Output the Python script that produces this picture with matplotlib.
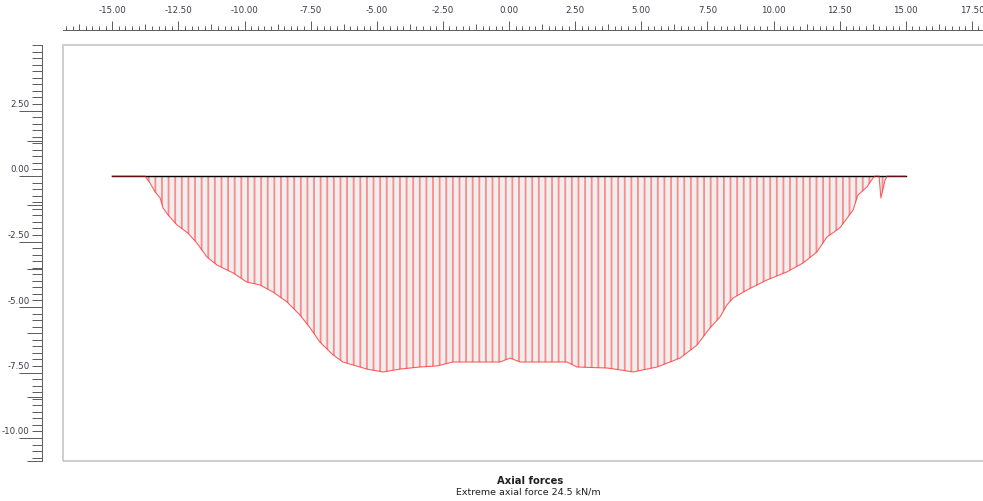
import numpy as np
import matplotlib
matplotlib.use("Agg")
import matplotlib.pyplot as plt
from matplotlib.ticker import MultipleLocator, FixedLocator, FormatStrFormatter, NullFormatter
from matplotlib.transforms import ScaledTranslation
from matplotlib.patches import Rectangle

# ---------------- data ----------------
x_pos = [-15.0, -13.76, -13.57, -13.38, -13.19, -13.08, -12.89, -12.55, -12.14, -11.80,
         -11.42, -11.04, -10.43, -9.91, -9.41, -8.92, -8.39, -7.90, -7.52, -7.15,
         -6.65, -6.28, -5.90, -5.37, -4.76, -4.12, -3.36, -2.72, -2.12, -1.21,
         -0.34, 0.04, 0.42, 1.55, 2.19, 2.57, 3.71, 4.20, 4.69, 5.60,
         6.47, 7.11, 7.60, 7.98, 8.24, 8.47, 9.00, 9.75, 10.51, 11.12,
         11.64, 12.02, 12.51, 13.01, 13.19, 13.53, 13.76, 13.84, 13.99, 14.06,
         14.22, 14.29, 15.0]
axial = [0, 0, -0.27, -0.61, -0.84, -1.22, -1.49, -1.87, -2.18, -2.56,
         -3.09, -3.40, -3.70, -4.05, -4.16, -4.43, -4.81, -5.31, -5.80, -6.34,
         -6.83, -7.10, -7.21, -7.37, -7.48, -7.37, -7.29, -7.25, -7.10, -7.10,
         -7.10, -6.95, -7.10, -7.10, -7.10, -7.29, -7.33, -7.40, -7.48, -7.29,
         -6.95, -6.45, -5.80, -5.38, -4.92, -4.66, -4.35, -3.97, -3.66, -3.32,
         -2.90, -2.33, -1.98, -1.30, -0.73, -0.42, -0.08, 0, 0, -0.84,
         -0.15, 0, 0]
x_ticks = [-15.0, -12.5, -10.0, -7.5, -5.0, -2.5, 0.0, 2.5, 5.0, 7.5, 10.0, 12.5, 15.0, 17.5]
y_ticks = [2.5, 0.0, -2.5, -5.0, -7.5, -10.0]
title = "Axial forces"
subtitle = "Extreme axial force 24.5 kN/m"

# ---------------- layout ----------------
DPI = 119
W, H = 983, 501
PX = 72.0 / DPI  # points per pixel

def rect(l, t, r, b):
    return [l / W, 1 - b / H, (r - l) / W, (b - t) / H]

# pixel calibration
X0_PX, SX = 509.0, 26.45
Y0_PX, SY = 176.0, 26.2
L, T, R, B = 63, 45, 990, 461
xlim = ((L - X0_PX) / SX, (R - X0_PX) / SX)
ylim = ((Y0_PX - B) / SY, (Y0_PX - T) / SY)

plt.rcParams["font.family"] = ["DejaVu Sans"]
plt.rcParams["hatch.linewidth"] = 1.1

fig = plt.figure(figsize=(W / DPI, H / DPI), dpi=DPI)
fig.patch.set_facecolor("white")

tick_col = "#606060"
lab_col = "#3a3a4a"
fs_tick = 8.7 * PX

ax = fig.add_axes(rect(L, T, R, B))
ax.set_xlim(*xlim)
ax.set_ylim(*ylim)
ax.patch.set_alpha(0)

# ruler axes
for s in ("right", "bottom"):
    ax.spines[s].set_visible(False)
ax.spines["top"].set_position(("outward", 9))
ax.spines["left"].set_position(("outward", 13))
for s in ("top", "left"):
    ax.spines[s].set_color(tick_col)
    ax.spines[s].set_linewidth(1.0 * PX)

ax.xaxis.tick_top()
ax.xaxis.set_major_locator(FixedLocator(x_ticks))
ax.xaxis.set_minor_locator(MultipleLocator(0.25))
ax.xaxis.set_major_formatter(FormatStrFormatter("%.2f"))
ax.yaxis.set_major_locator(FixedLocator(y_ticks))
ax.yaxis.set_minor_locator(MultipleLocator(0.25))
ax.yaxis.set_major_formatter(FormatStrFormatter("%.2f"))

ax.tick_params(axis="x", which="major", direction="out", length=9 * PX, width=1.0 * PX,
               color=tick_col, labelsize=fs_tick, labelcolor=lab_col, pad=6 * PX)
ax.tick_params(axis="x", which="minor", direction="out", length=4 * PX, width=1.0 * PX,
               color=tick_col)
ax.tick_params(axis="y", which="major", direction="out", length=23 * PX, width=1.0 * PX,
               color=tick_col, labelsize=fs_tick, labelcolor=lab_col, pad=-11 * PX)
ax.tick_params(axis="y", which="minor", direction="out", length=10 * PX, width=1.0 * PX,
               color=tick_col)
off = ScaledTranslation(0, 7 / DPI, fig.dpi_scale_trans)
for lab in ax.get_yticklabels():
    lab.set_transform(lab.get_transform() + off)

# medium ticks (mid-way between labelled ticks)
axm = fig.add_axes(rect(L, T, R, B))
axm.set_xlim(*xlim)
axm.set_ylim(*ylim)
axm.patch.set_alpha(0)
for s in axm.spines.values():
    s.set_visible(False)
axm.xaxis.tick_top()
axm.set_xticks([v + 1.25 for v in x_ticks[:-1]] + [x_ticks[0] - 1.25])
axm.set_yticks([v - 1.25 for v in y_ticks[:-1]] + [y_ticks[-1] - 1.25 + 2.5 - 2.5 - 0.0] )
axm.xaxis.set_major_formatter(NullFormatter())
axm.yaxis.set_major_formatter(NullFormatter())
axm.tick_params(axis="x", direction="out", length=6 * PX, width=1.0 * PX, color=tick_col)
axm.tick_params(axis="y", direction="out", length=15 * PX, width=1.0 * PX, color=tick_col)
axm.spines["top"].set_position(("outward", 9))
axm.spines["left"].set_position(("outward", 13))

# frame
ax.add_patch(Rectangle((0, 0), 1, 1, transform=ax.transAxes, fill=False,
                       edgecolor="#c4c4c4", lw=1.6 * PX, clip_on=False, zorder=0))

# force diagram
ax.fill_between(x_pos, axial, 0, facecolor="#efefef", edgecolor="#ff8a8a",
                hatch="|||", linewidth=0, zorder=1)
ax.plot([x_pos[0], x_pos[-1]], [0, 0], color="black", lw=1.4 * PX, zorder=2)
ax.plot(x_pos, axial, color="#ff2020", alpha=0.7, lw=1.1 * PX, zorder=3)

# captions
fig.text(530 / W, 1 - 481 / H, title, ha="center", va="center",
         fontsize=10 * PX, fontweight="bold", color="#202020")
fig.text(528 / W, 1 - 492 / H, subtitle, ha="center", va="center",
         fontsize=9.5 * PX, color="#202020")

fig.savefig("out.png", dpi=DPI)
